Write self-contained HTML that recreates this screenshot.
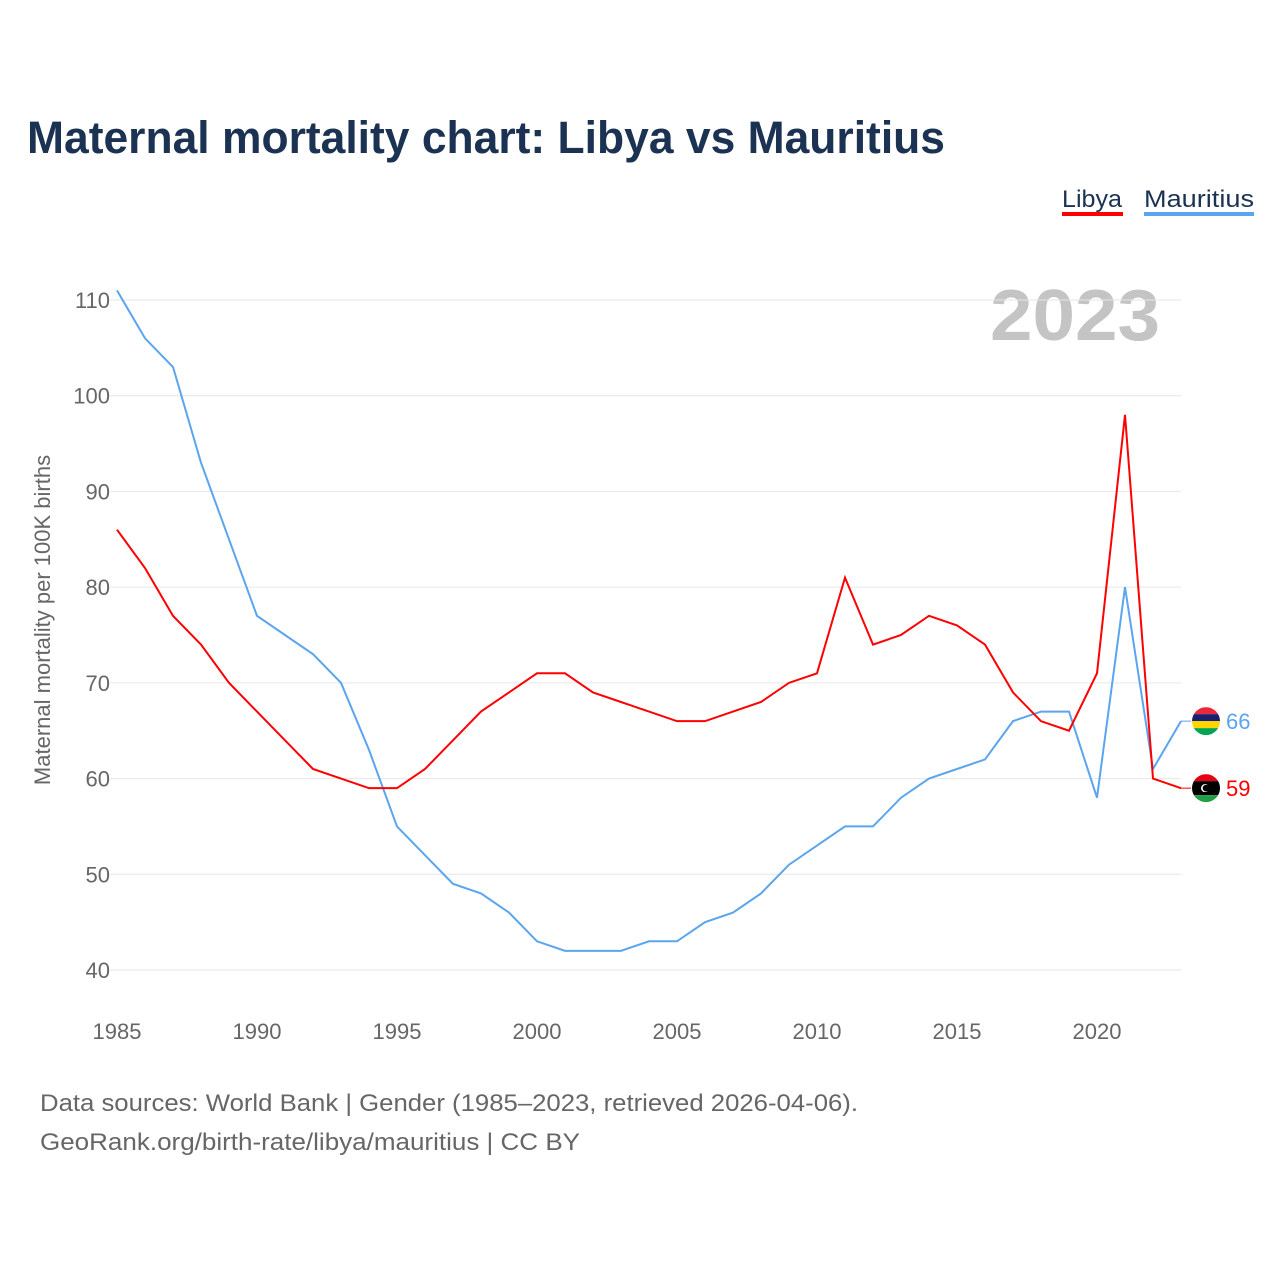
<!DOCTYPE html>
<html><head><meta charset="utf-8">
<style>
body{margin:0;background:#fff;font-family:"Liberation Sans",sans-serif;}
svg text{font-family:"Liberation Sans",sans-serif;}
</style></head>
<body>
<svg id="chart" width="1280" height="1280" viewBox="0 0 1280 1280">
<text x="27" y="153" font-size="45" font-weight="bold" fill="#1b3252" textLength="918" lengthAdjust="spacingAndGlyphs">Maternal mortality chart: Libya vs Mauritius</text>
<g>
<text x="1062" y="207" font-size="24" fill="#1b3252" textLength="60" lengthAdjust="spacingAndGlyphs">Libya</text>
<rect x="1062" y="212" width="61" height="4" fill="#ff0000"/>
<text x="1144" y="207" font-size="24" fill="#1b3252" textLength="110" lengthAdjust="spacingAndGlyphs">Mauritius</text>
<rect x="1144" y="212" width="110" height="4" fill="#5aa5ee"/>
</g>
<text x="1160" y="340" font-size="72" font-weight="bold" fill="#c4c4c4" text-anchor="end" textLength="170" lengthAdjust="spacingAndGlyphs">2023</text>
<text transform="translate(50,620) rotate(-90)" font-size="22" fill="#666" text-anchor="middle">Maternal mortality per 100K births</text>
<g id="grid"></g>
<g id="lines"></g>
<text x="40" y="1111" font-size="24" fill="#666" textLength="818" lengthAdjust="spacingAndGlyphs">Data sources: World Bank | Gender (1985–2023, retrieved 2026-04-06).</text>
<text x="40" y="1150" font-size="24" fill="#666" textLength="540" lengthAdjust="spacingAndGlyphs">GeoRank.org/birth-rate/libya/mauritius | CC BY</text>
</svg>
<script>
const years = [];
for (let y = 1985; y <= 2023; y++) years.push(y);
const libya = [86,82,77,74,70,67,64,61,60,59,59,61,64,67,69,71,71,69,68,67,66,66,67,68,70,71,81,74,75,77,76,74,69,66,65,71,98,60,59];
const mauritius = [111,106,103,93,85,77,75,73,70,63,55,52,49,48,46,43,42,42,42,43,43,45,46,48,51,53,55,55,58,60,61,62,66,67,67,58,80,61,66];
const yTicks = [40,50,60,70,80,90,100,110];
const xTicks = [1985,1990,1995,2000,2005,2010,2015,2020];
const NS = 'http://www.w3.org/2000/svg';
const xS = v => 117 + (v - 1985) * 28;
const yS = v => 970 - (v - 40) * (670 / 70);
const grid = document.getElementById('grid');
const lines = document.getElementById('lines');
function mk(tag, attrs, parent) { const e = document.createElementNS(NS, tag); for (const k in attrs) e.setAttribute(k, attrs[k]); parent.appendChild(e); return e; }
yTicks.forEach(t => {
  const l = mk('line', {x1: 110, x2: 1181, y1: yS(t), y2: yS(t), stroke: '#e6e6e6', 'stroke-width': 1}, grid);
  
  
  const tx = mk('text', {x: 110, y: yS(t) + 8, 'font-size': 22, fill: '#666', 'text-anchor': 'end'}, grid);
  tx.textContent = t;
  
  
});
xTicks.forEach(t => {
  const tx = mk('text', {x: xS(t), y: 1039, 'font-size': 22, fill: '#666', 'text-anchor': 'middle'}, grid);
  tx.textContent = t;
  
  
});
function series(vals, color, name) {
  const d = vals.map((v, i) => (i ? 'L' : 'M') + xS(years[i]) + ',' + yS(v)).join(' ');
  const p = mk('path', {d: d, fill: 'none', stroke: color, 'stroke-width': 2}, lines);
  
  
}
series(mauritius, '#5aa5ee', 'mauritius');
series(libya, '#ff0000', 'libya');
function endLabel(vals, color, name, flag) {
  const v = vals[vals.length - 1];
  const x0 = xS(years[years.length - 1]), y0 = yS(v);
  const g = mk('g', {}, lines);
  
  
  mk('line', {x1: x0, x2: x0 + 10, y1: y0, y2: y0, stroke: color, 'stroke-width': 1}, g);
  const cx = x0 + 25;
  if (flag === 'mu') {
    mk('clipPath', {id: 'cmu'}, g).appendChild(document.createElementNS(NS, 'circle'));
    const c = g.querySelector('#cmu circle'); c.setAttribute('cx', cx); c.setAttribute('cy', y0); c.setAttribute('r', 14);
    const cols = ['#ea2839', '#1a206d', '#ffd500', '#00a551'];
    cols.forEach((col, i) => mk('rect', {x: cx - 14, y: y0 - 14 + i * 7, width: 28, height: 7, fill: col, 'clip-path': 'url(#cmu)'}, g));
  } else {
    mk('clipPath', {id: 'cly'}, g).appendChild(document.createElementNS(NS, 'circle'));
    const c = g.querySelector('#cly circle'); c.setAttribute('cx', cx); c.setAttribute('cy', y0); c.setAttribute('r', 14);
    const cols = ['#e70013', '#000', '#239e46'];
    const h = [7, 14, 7];
    let yy = y0 - 14;
    cols.forEach((col, i) => { mk('rect', {x: cx - 14, y: yy, width: 28, height: h[i], fill: col, 'clip-path': 'url(#cly)'}, g); yy += h[i]; });
    mk('circle', {cx: cx - 1, cy: y0, r: 4, fill: '#fff'}, g);
    mk('circle', {cx: cx, cy: y0, r: 3.3, fill: '#000'}, g);
  }
  const t = mk('text', {x: cx + 20, y: y0 + 8, 'font-size': 22, fill: color}, g);
  t.textContent = v;
}
endLabel(mauritius, '#5aa5ee', 'mauritius', 'mu');
endLabel(libya, '#ff0000', 'libya', 'ly');
</script>
</body></html>
